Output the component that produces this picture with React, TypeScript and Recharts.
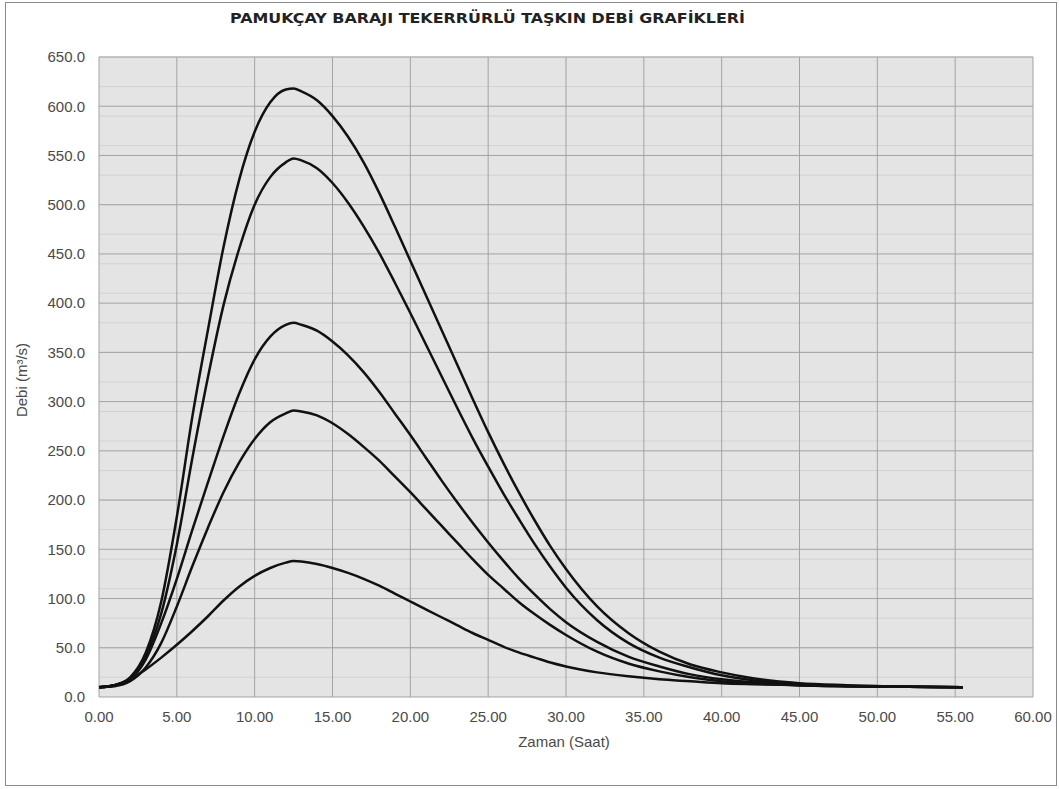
import { CartesianGrid, Line, LineChart, XAxis, YAxis } from "recharts";

const hours = [0, 1, 2, 3, 4, 5, 6, 7, 8, 9, 10, 11, 12, 12.5, 13, 14, 15, 16, 17, 18, 19, 20, 21, 22, 23, 24, 25, 26, 27, 28, 29, 30, 32, 34, 36, 38, 40, 42, 45, 48, 52, 55.5];

const flowA = [10, 12, 20, 45, 97, 183, 285, 373, 457, 525, 574, 604, 617, 618, 615, 606, 590, 569, 543, 512, 478, 443, 408, 373, 338, 303, 269, 237, 207, 179, 153, 130, 92, 65, 46, 33, 25, 19, 14, 12, 10.5, 10];
const flowB = [10, 12, 19, 42, 85, 155, 243, 325, 398, 455, 500, 528, 543, 547, 545, 537, 522, 502, 478, 451, 421, 390, 358, 326, 294, 263, 234, 206, 180, 155, 132, 111, 78, 55, 40, 30, 22, 17, 13, 11.5, 10.5, 10];
const flowC = [10, 12, 18, 38, 75, 120, 170, 218, 265, 308, 343, 366, 378, 380, 378, 372, 361, 347, 330, 310, 288, 266, 243, 220, 198, 177, 157, 138, 120, 104, 89, 76, 56, 41, 31, 23, 18, 15, 12, 11, 10.3, 10];
const flowD = [10, 11, 16, 30, 55, 92, 133, 172, 208, 238, 262, 279, 288, 291, 290, 286, 278, 267, 254, 240, 224, 208, 191, 174, 157, 140, 124, 110, 96, 84, 73, 63, 46, 34, 26, 20, 16, 14, 12, 11, 10.3, 10];
const flowE = [10, 12, 18, 28, 40, 53, 67, 82, 98, 112, 123, 131, 136.5, 138, 137.5, 135, 131, 126, 120, 113, 105, 97, 89, 81, 73, 65, 58, 51, 45, 40, 35, 31, 25, 21, 18, 16, 14, 13, 12, 11, 10.3, 10];

const xTicks = [0, 5, 10, 15, 20, 25, 30, 35, 40, 45, 50, 55, 60];
const yTicks = [0, 50, 100, 150, 200, 250, 300, 350, 400, 450, 500, 550, 600, 650];
const yMinor = Array.from({ length: 66 }, (_, i) => i * 10);

const seriesKeys = ["a", "b", "c", "d", "e"];

const data = hours.map((t, i) => ({
  t,
  a: flowA[i],
  b: flowB[i],
  c: flowC[i],
  d: flowD[i],
  e: flowE[i],
}));

const tickStyle = { fontFamily: "Liberation Sans, Arial, sans-serif", fontSize: 15, fill: "#4a4a4a" };

export default function App() {
  return (
    <div style={{ position: "absolute", left: 0, top: 0, width: 1059, height: 789, background: "#fff" }}>
      <LineChart width={1059} height={789} data={data} margin={{ top: 57, right: 26, bottom: 52, left: 9 }}>
        <CartesianGrid fill="#e4e4e4" stroke="#d2d2d2" vertical={false} horizontalValues={yMinor} />
        <CartesianGrid stroke="#a3a3a3" fillOpacity={0} />
        <XAxis
          type="number"
          dataKey="t"
          domain={[0, 60]}
          ticks={xTicks}
          tickFormatter={(v: number) => v.toFixed(2)}
          tick={tickStyle}
          tickLine={false}
          axisLine={false}
          tickSize={0}
          tickMargin={14}
          height={40}
        />
        <YAxis
          type="number"
          domain={[0, 650]}
          ticks={yTicks}
          tickFormatter={(v: number) => v.toFixed(1)}
          tick={tickStyle}
          tickLine={false}
          axisLine={false}
          tickSize={0}
          tickMargin={14}
          width={90}
        />
        {seriesKeys.map((k) => (
          <Line
            key={k}
            type="monotone"
            dataKey={k}
            stroke="#111"
            strokeWidth={2.5}
            dot={false}
            isAnimationActive={false}
          />
        ))}
      </LineChart>
      <svg width={1059} height={789} style={{ position: "absolute", left: 0, top: 0, pointerEvents: "none" }}>
        <rect x={5.5} y={2.5} width={1051} height={783} fill="none" stroke="#8a8a8a" />
        <text
          x={230}
          y={23}
          textLength={515}
          lengthAdjust="spacingAndGlyphs"
          fontFamily="DejaVu Sans, Arial, sans-serif"
          fontWeight="bold"
          fontSize={14}
          fill="#222"
        >
          PAMUKÇAY BARAJI TEKERRÜRLÜ TAŞKIN DEBİ GRAFİKLERİ
        </text>
        <text x={564} y={747} textAnchor="middle" fontFamily="Liberation Sans, Arial, sans-serif" fontSize={15} fill="#4a4a4a">
          Zaman (Saat)
        </text>
        <text
          x={27}
          y={380}
          textAnchor="middle"
          transform="rotate(-90 27 380)"
          fontFamily="Liberation Sans, Arial, sans-serif"
          fontSize={15}
          fill="#4a4a4a"
        >
          Debi (m³/s)
        </text>
      </svg>
    </div>
  );
}
